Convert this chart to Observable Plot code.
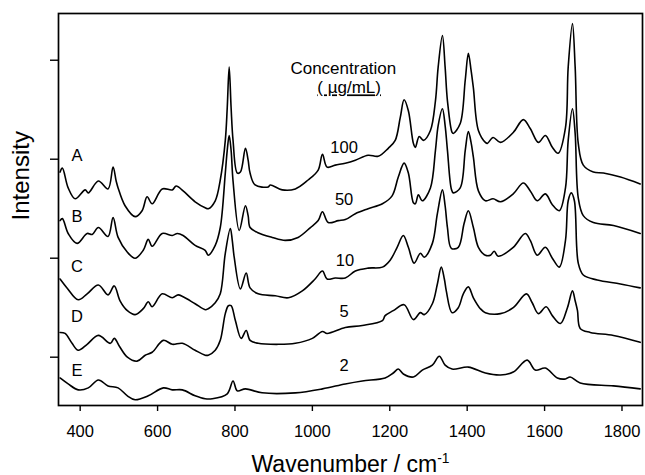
<!DOCTYPE html>
<html>
<head>
<meta charset="utf-8">
<script src="https://cdn.jsdelivr.net/npm/d3@7"></script>
<script src="https://cdn.jsdelivr.net/npm/@observablehq/plot@0.6"></script>
<style>
  html, body { margin: 0; padding: 0; background: #fff; }
  #chart { width: 645px; height: 475px; }
</style>
</head>
<body>
<div id="chart"></div>
<script>
// Raman spectra at five concentrations, stacked with vertical offsets.
// Each point: [wavenumber (cm-1), intensity (arbitrary units, offset)]
const spectrumA = [
  [348,1.87],[354,1.91],[369,1.71],[387,1.60],[413,1.69],[421,1.66],[447,1.78],[472,1.70],
  [485,1.92],[493,1.78],[498,1.71],[516,1.53],[542,1.42],[560,1.48],[573,1.62],[586,1.55],
  [612,1.70],[638,1.69],[648,1.73],[666,1.68],[697,1.57],[723,1.51],[731,1.50],[749,1.58],
  [762,1.79],[775,2.19],[780,2.52],[785,2.93],[790,2.52],[795,2.19],[806,1.86],[814,1.87],
  [827,2.11],[834,1.99],[839,1.86],[852,1.74],[886,1.72],[891,1.74],[922,1.69],[956,1.70],
  [989,1.79],[1015,1.89],[1026,2.05],[1038,1.92],[1059,1.94],[1085,1.96],[1111,1.99],
  [1144,2.04],[1170,2.03],[1196,2.11],[1214,2.19],[1227,2.42],[1237,2.60],[1248,2.49],
  [1261,2.16],[1266,2.12],[1276,2.23],[1287,2.19],[1305,2.29],[1318,2.59],[1325,2.93],
  [1336,3.25],[1343,2.93],[1349,2.59],[1361,2.27],[1364,2.26],[1382,2.36],[1395,2.80],
  [1403,3.07],[1410,2.90],[1416,2.72],[1429,2.29],[1447,2.17],[1452,2.16],[1467,2.22],
  [1486,2.17],[1519,2.27],[1545,2.40],[1563,2.31],[1584,2.17],[1602,2.24],[1620,2.12],
  [1635,2.06],[1654,2.32],[1661,2.93],[1672,3.37],[1679,2.93],[1687,2.16],[1700,1.94],
  [1726,1.87],[1752,1.86],[1796,1.82],[1847,1.75]
];
const spectrumB = [
  [348,1.38],[354,1.40],[369,1.25],[392,1.15],[418,1.25],[431,1.24],[447,1.31],[472,1.22],
  [485,1.41],[498,1.21],[522,1.06],[542,1.00],[563,1.08],[576,1.19],[586,1.12],[612,1.25],
  [638,1.23],[651,1.25],[666,1.23],[697,1.13],[723,1.08],[731,1.03],[749,1.13],[762,1.31],
  [775,1.86],[780,2.09],[785,2.24],[790,2.09],[795,1.78],[811,1.28],[827,1.53],[834,1.43],
  [839,1.31],[858,1.26],[896,1.21],[930,1.18],[963,1.21],[995,1.31],[1015,1.38],[1026,1.47],
  [1041,1.36],[1067,1.38],[1085,1.39],[1111,1.45],[1144,1.50],[1181,1.55],[1206,1.63],
  [1222,1.82],[1237,1.96],[1248,1.86],[1261,1.56],[1266,1.55],[1274,1.64],[1284,1.58],
  [1305,1.71],[1318,2.09],[1325,2.34],[1336,2.51],[1343,2.34],[1349,2.09],[1359,1.70],
  [1364,1.66],[1382,1.71],[1395,2.09],[1403,2.28],[1410,2.17],[1416,2.02],[1429,1.68],
  [1447,1.58],[1467,1.60],[1486,1.57],[1519,1.65],[1545,1.76],[1563,1.68],[1581,1.58],
  [1602,1.65],[1620,1.54],[1638,1.48],[1654,1.71],[1661,2.19],[1672,2.51],[1679,2.26],
  [1687,1.61],[1700,1.43],[1726,1.36],[1778,1.33],[1847,1.25]
];
const spectrumC = [
  [348,0.79],[366,0.70],[395,0.58],[418,0.64],[447,0.73],[472,0.63],[488,0.72],[503,0.57],
  [522,0.47],[542,0.43],[563,0.49],[576,0.56],[586,0.51],[612,0.64],[638,0.60],[653,0.63],
  [666,0.61],[697,0.54],[723,0.48],[731,0.49],[749,0.55],[762,0.64],[775,1.05],[788,1.30],
  [793,1.18],[798,1.01],[814,0.69],[829,0.85],[839,0.70],[860,0.64],[904,0.62],[938,0.60],
  [974,0.67],[1007,0.79],[1026,0.87],[1038,0.79],[1059,0.80],[1085,0.80],[1111,0.87],
  [1144,0.90],[1181,0.91],[1201,0.98],[1219,1.11],[1235,1.23],[1248,1.11],[1263,0.95],
  [1279,1.05],[1289,1.01],[1310,1.15],[1323,1.45],[1336,1.69],[1343,1.53],[1349,1.31],
  [1359,1.10],[1377,1.11],[1392,1.35],[1403,1.48],[1416,1.31],[1429,1.11],[1447,1.03],
  [1460,1.03],[1470,1.07],[1480,1.02],[1519,1.11],[1550,1.25],[1563,1.18],[1581,1.03],
  [1602,1.11],[1620,1.00],[1638,0.91],[1654,1.18],[1661,1.58],[1669,1.66],[1677,1.58],
  [1687,0.95],[1700,0.83],[1736,0.78],[1796,0.74],[1847,0.70]
];
const spectrumD = [
  [348,0.25],[361,0.24],[379,0.14],[395,0.07],[418,0.13],[447,0.22],[478,0.14],[488,0.19],
  [503,0.10],[522,0.00],[547,-0.04],[568,0.02],[586,0.05],[615,0.17],[638,0.13],[664,0.14],
  [697,0.07],[723,0.02],[731,0.02],[749,0.07],[762,0.17],[775,0.44],[783,0.52],[790,0.52],
  [801,0.37],[816,0.19],[829,0.27],[839,0.17],[860,0.14],[912,0.13],[956,0.14],[1000,0.19],
  [1026,0.26],[1038,0.24],[1085,0.30],[1129,0.32],[1181,0.37],[1188,0.42],[1209,0.47],
  [1237,0.53],[1261,0.38],[1279,0.45],[1289,0.43],[1310,0.54],[1323,0.74],[1333,0.91],
  [1341,0.79],[1346,0.67],[1361,0.45],[1377,0.50],[1390,0.64],[1403,0.71],[1416,0.60],
  [1434,0.49],[1447,0.45],[1486,0.44],[1519,0.50],[1553,0.64],[1568,0.55],[1584,0.44],
  [1604,0.51],[1620,0.42],[1641,0.34],[1659,0.50],[1672,0.67],[1679,0.57],[1685,0.47],
  [1692,0.29],[1718,0.25],[1778,0.22],[1847,0.15]
];
const spectrumE = [
  [348,-0.21],[369,-0.27],[395,-0.33],[421,-0.31],[447,-0.23],[472,-0.29],[498,-0.31],
  [522,-0.39],[542,-0.43],[576,-0.39],[615,-0.31],[638,-0.33],[664,-0.33],[697,-0.39],
  [723,-0.42],[741,-0.42],[780,-0.37],[795,-0.24],[806,-0.34],[827,-0.32],[870,-0.36],
  [956,-0.36],[1026,-0.32],[1085,-0.27],[1129,-0.24],[1188,-0.21],[1209,-0.16],[1222,-0.12],
  [1235,-0.17],[1261,-0.20],[1284,-0.13],[1310,-0.08],[1328,0.01],[1343,-0.08],[1361,-0.12],
  [1403,-0.10],[1447,-0.16],[1486,-0.18],[1519,-0.15],[1555,-0.03],[1576,-0.13],[1602,-0.11],
  [1633,-0.21],[1654,-0.22],[1666,-0.20],[1692,-0.26],[1778,-0.29],[1847,-0.32]
];

const seriesNames = ["A", "B", "C", "D", "E"];
const concentrations = ["100", "50", "10", "5", "2"];
// label anchors: [wavenumber, intensity]
const letterPositions = [[392, 2.04], [392, 1.42], [392, 0.91], [392, 0.41], [392, -0.14]];
const concPositions = [[1082, 2.12], [1082, 1.59], [1084, 0.97], [1082, 0.46], [1082, -0.09]];
const headerLines = ["Concentration", "( \u00b5g/mL)"];
const headerPositions = [[1080, 2.92], [1095, 2.72]];

const xTicks = [400, 600, 800, 1000, 1200, 1400, 1600, 1800];
const yTicks = [0, 1, 2, 3];
const xLabel = "Wavenumber / cm";
const xLabelSup = "-1";
const yLabel = "Intensity";

const spectra = [spectrumA, spectrumB, spectrumC, spectrumD, spectrumE];
const points = spectra.flatMap((s, i) => s.map(([w, v]) => ({series: seriesNames[i], w, v})));
const letters = seriesNames.map((t, i) => ({t, w: letterPositions[i][0], v: letterPositions[i][1]}));
const concs = concentrations.map((t, i) => ({t, w: concPositions[i][0], v: concPositions[i][1]}));
const header = headerLines.map((t, i) => ({t, w: headerPositions[i][0], v: headerPositions[i][1]}));

const font = "'Liberation Sans', Arial, Helvetica, sans-serif";

const chart = Plot.plot({
  width: 645,
  height: 475,
  marginLeft: 58,
  marginRight: 3,
  marginTop: 13,
  marginBottom: 70,
  style: {fontFamily: font, background: "#fff", color: "#000"},
  x: {domain: [344, 1853]},
  y: {domain: [-0.488, 3.472]},
  marks: [
    Plot.axisX({ticks: xTicks, tickSize: 6, tickPadding: 14, fontSize: 16.5, tickFormat: d => String(d), label: null, strokeWidth: 1.4}),
    Plot.axisY({ticks: yTicks, tickSize: 8, tickFormat: () => "", label: null, strokeWidth: 1.4}),
    Plot.line(points, {x: "w", y: "v", z: "series", stroke: "#000", strokeWidth: 1.6, curve: "catmull-rom"}),
    Plot.frame({stroke: "#000", strokeWidth: 1.7}),
    Plot.text(letters, {x: "w", y: "v", text: "t", fontSize: 16.5, textAnchor: "middle", lineAnchor: "middle"}),
    Plot.text(concs, {x: "w", y: "v", text: "t", fontSize: 16.5, textAnchor: "middle", lineAnchor: "middle"}),
    Plot.text(header, {x: "w", y: "v", text: "t", fontSize: 17, textAnchor: "middle", lineAnchor: "middle"}),
    Plot.text([xLabel], {frameAnchor: "bottom", text: d => d, fontSize: 23, lineAnchor: "bottom", dy: 66}),
    Plot.text([yLabel], {frameAnchor: "left", text: d => d, fontSize: 24, rotate: -90, lineAnchor: "middle", dx: -37, dy: 11})
  ]
});

// superscript exponent on the x-axis unit, underline on the units line
const svg = d3.select(chart);
svg.selectAll("text").filter(function() { return this.textContent === xLabel; })
  .append("tspan").attr("dy", "-0.6em").attr("font-size", "0.6em").text(xLabelSup);
svg.selectAll("text").filter(function() { return this.textContent === headerLines[1]; })
  .attr("text-decoration", "underline");

document.getElementById("chart").appendChild(chart);
</script>
</body>
</html>
